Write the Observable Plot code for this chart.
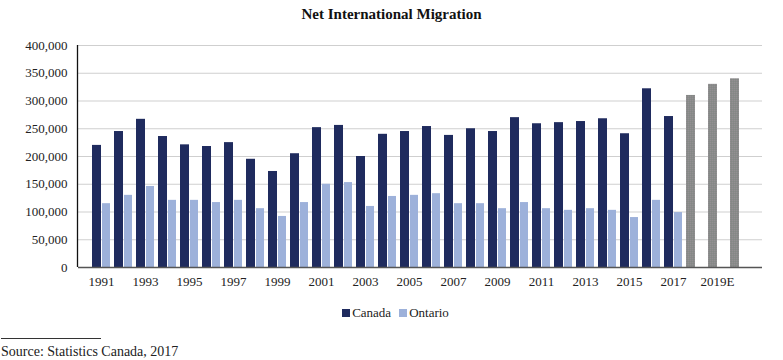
<!DOCTYPE html>
<html>
<head>
<meta charset="utf-8">
<script src="https://cdn.jsdelivr.net/npm/d3@7"></script>
<script src="https://cdn.jsdelivr.net/npm/@observablehq/plot@0.6"></script>
<style>
  html, body { margin: 0; padding: 0; background: #fff; }
  body { width: 783px; height: 360px; font-family: "Liberation Serif", "DejaVu Serif", serif; color: #222; position: relative; overflow: hidden; }
  #title { height: 28px; line-height: 28px; text-align: center; font-weight: bold; font-size: 15px; color: #111; }
  #legend { display: flex; justify-content: center; align-items: center; gap: 8px; font-size: 13px; height: 36px; margin-left: 8px; }
  #legend span.item { display: inline-flex; align-items: center; }
  #legend span.sw { display: inline-block; width: 8px; height: 8px; margin-right: 2px; }
  #rule { width: 100px; height: 0; border-top: 1px solid #333; margin-left: 1px; margin-top: 7px; }
  #source { font-size: 14px; margin-top: 5px; margin-left: 1px; }
</style>
</head>
<body>
<div id="title">Net International Migration</div>
<div id="chart"></div>
<div id="legend"></div>
<div id="rule"></div>
<div id="source">Source: Statistics Canada, 2017</div>
<script>
const years = ["1991","1992","1993","1994","1995","1996","1997","1998","1999","2000",
  "2001","2002","2003","2004","2005","2006","2007","2008","2009","2010",
  "2011","2012","2013","2014","2015","2016","2017","2018E","2019E","2020E"];
const actualYears = years.slice(0, 27);
const projectedYears = years.slice(27);
const canada = [220000,245000,267000,236000,221000,218000,225000,195000,173000,205000,
  252000,256000,200000,240000,245000,254000,238000,250000,245000,270000,
  259000,261000,263000,268000,241000,322000,272000];
const ontario = [115000,130000,146000,121000,121000,117000,121000,106000,92000,117000,
  150000,153000,110000,128000,130000,133000,115000,115000,106000,117000,
  106000,103000,106000,103000,90000,121000,99000];
const projection = [310000,330000,340000];
const tickYears = ["1991","1993","1995","1997","1999","2001","2003","2005","2007","2009","2011","2013","2015","2017","2019E"];
const gridValues = [50000,100000,150000,200000,250000,300000,350000,400000];
const seriesNames = ["Canada","Ontario"];
const colors = {Canada: "#1f2b5e", Ontario: "#9db1da", Projection: "url(#proj)"};

const canadaData = actualYears.map((y, i) => ({year: y, value: canada[i]}));
const ontarioData = actualYears.map((y, i) => ({year: y, value: ontario[i]}));
const projData = projectedYears.map((y, i) => ({year: y, value: projection[i]}));

const plot = Plot.plot({
  width: 783,
  height: 267,
  marginLeft: 78,
  marginRight: 21,
  marginTop: 17,
  marginBottom: 28,
  style: {fontFamily: "Liberation Serif, serif", fontSize: "13px", color: "#222", background: "transparent"},
  x: {domain: years, paddingInner: 0.17, paddingOuter: 0.09, ticks: tickYears, tickSize: 0, tickPadding: 9, label: null},
  y: {domain: [0, 400000], ticks: gridValues.concat([0]), tickFormat: d3.format(","), tickSize: 0, tickPadding: 11, label: null},
  marks: [
    Plot.ruleY(gridValues, {stroke: "#cfcfcf", strokeWidth: 1}),
    Plot.barY(canadaData, {x: "year", y: "value", fill: colors.Canada, insetRight: 9}),
    Plot.barY(ontarioData, {x: "year", y: "value", fill: colors.Ontario, insetLeft: 10}),
    Plot.barY(projData, {x: "year", y: "value", fill: colors.Projection, insetRight: 9}),
    Plot.ruleY([0], {stroke: "#555", strokeWidth: 1.5})
  ]
});

// pattern for projected bars
const ns = "http://www.w3.org/2000/svg";
const defs = document.createElementNS(ns, "defs");
defs.innerHTML = `<pattern id="proj" width="2" height="2" patternUnits="userSpaceOnUse">
  <rect width="2" height="2" fill="#8a8a8a"/>
  <rect width="1" height="1" fill="#939093"/>
  <rect x="1" y="1" width="1" height="1" fill="#838985"/>
</pattern>`;
plot.insertBefore(defs, plot.firstChild);

// left axis line, placed from the plot's own scales
const ySc = plot.scale("y");
const xSc = plot.scale("x");
const yr = (ySc && ySc.range) ? ySc.range : [267 - 28, 17];
const xr = (xSc && xSc.range) ? xSc.range : [78, 762];
d3.select(plot).append("line")
  .attr("x1", xr[0] - 0.5).attr("x2", xr[0] - 0.5)
  .attr("y1", Math.min(...yr)).attr("y2", Math.max(...yr))
  .attr("stroke", "#111").attr("stroke-width", 1.3);

document.getElementById("chart").appendChild(plot);

const legend = document.getElementById("legend");
seriesNames.forEach(name => {
  const item = document.createElement("span");
  item.className = "item";
  const sw = document.createElement("span");
  sw.className = "sw";
  sw.style.background = colors[name];
  item.appendChild(sw);
  item.appendChild(document.createTextNode(name));
  legend.appendChild(item);
});
</script>
</body>
</html>
